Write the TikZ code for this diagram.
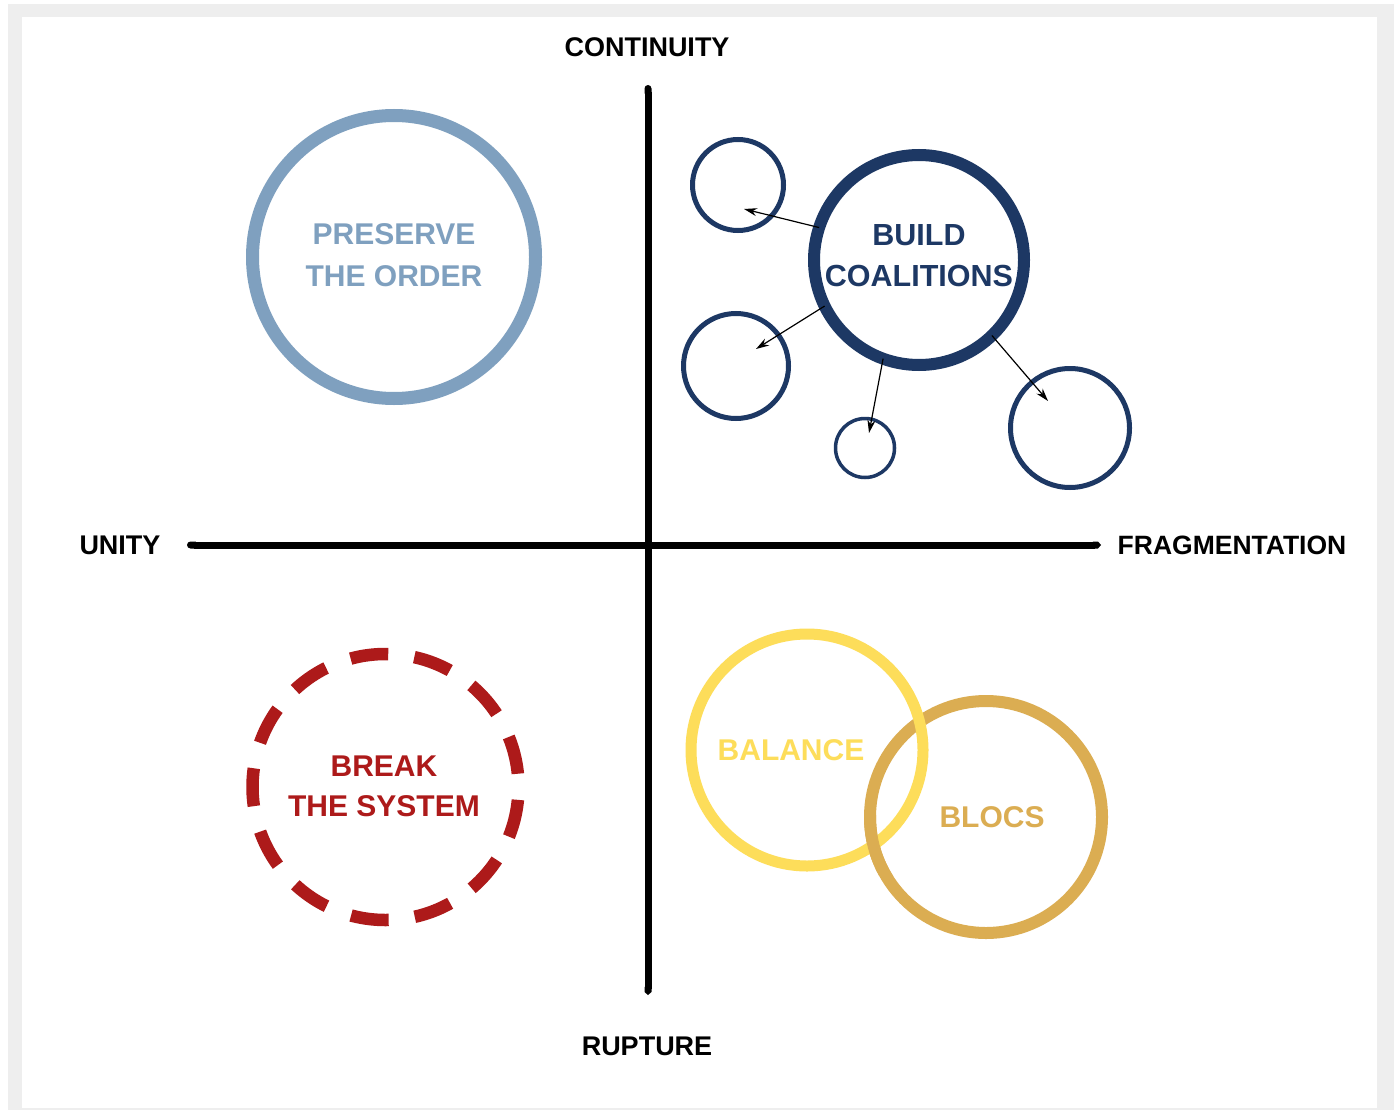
\documentclass[tikz,border=0pt]{standalone}
\usepackage{fontspec}
\setmainfont{Liberation Sans}
\usetikzlibrary{arrows.meta}
\definecolor{framegray}{HTML}{EEEEEE}
\definecolor{preserveblue}{HTML}{7FA0BF}
\definecolor{navy}{HTML}{1D3864}
\definecolor{breakred}{HTML}{AD1A1A}
\definecolor{balyellow}{HTML}{FDDD5A}
\definecolor{blocgold}{HTML}{DBAD52}
\tikzset{
  ring/.style={circle, draw, inner sep=0pt, outer sep=0pt},
  axislabel/.style={font=\fontsize{27}{30}\selectfont\bfseries, inner sep=0pt},
  bigtext/.style={font=\fontsize{30}{41}\selectfont\bfseries, align=center, inner sep=0pt},
  axisline/.style={line width=7pt, {Round Cap}-{Triangle Cap[length=3pt]}},
  spoke/.style={line width=1.2pt, -{Stealth[length=13pt,width=8pt]}}
}
\begin{document}
\begin{tikzpicture}[x=1pt,y=-1pt]
\useasboundingbox (0,0) rectangle (1394,1110);
\fill[framegray] (8,4) rectangle (1394,1110);
\fill[white] (22,17) rectangle (1377,1108);

% axes
\coordinate (vtop) at (648,85);
\coordinate (vbot) at (648,995);
\coordinate (hleft) at (187,545);
\coordinate (hright) at (1101,545);
\draw[axisline] (vtop) -- (vbot);
\draw[axisline] (hleft) -- (hright);

\node[axislabel] (cont) at (647,47) {CONTINUITY};
\node[axislabel] (rupt) at (647,1046) {RUPTURE};
\node[axislabel] (unity) at (120,545) {UNITY};
\node[axislabel, font=\fontsize{26.5}{30}\selectfont\bfseries] (frag) at (1232,545) {FRAGMENTATION};

% preserve the order
\node[ring, draw=preserveblue, line width=13pt, minimum size=283pt] (pres) at (394,257) {};
\node[bigtext, text=preserveblue, font=\fontsize{30}{42}\selectfont\bfseries] (prestext) at (394,255.5) {PRESERVE\\THE ORDER};

% build coalitions
\node[ring, draw=navy, line width=12pt, minimum size=210pt] (bc) at (919,260) {};
\node[bigtext, text=navy, font=\fontsize{30.5}{41}\selectfont\bfseries] (bctext) at (919,255.5) {BUILD\\COALITIONS};
\node[ring, draw=navy, line width=5pt, minimum size=91pt] (s1) at (738,185) {};
\node[ring, draw=navy, line width=5pt, minimum size=105pt] (s2) at (736,366) {};
\node[ring, draw=navy, line width=3.5pt, minimum size=59pt] (s3) at (865,448) {};
\node[ring, draw=navy, line width=5pt, minimum size=119pt] (s4) at (1070,428) {};
\coordinate (e1) at (744,209);
\coordinate (e2) at (756,349);
\coordinate (e3) at (869,433);
\coordinate (e4) at (1048,401);
\draw[spoke] (bc.162) -- (e1);
\draw[spoke] (bc.206) -- (e2);
\draw[spoke] (bc.250) -- (e3);
\draw[spoke] (bc.314) -- (e4);

% break the system
\node[ring, draw=breakred, line width=12.5pt, minimum size=266pt,
  dash pattern=on 38pt off 26.3pt, dash phase=51pt] (brk) at (385.5,787) {};
\node[bigtext, text=breakred, font=\fontsize{30}{40}\selectfont\bfseries] (brktext) at (384,786) {BREAK\\THE SYSTEM};

% balance and blocs
\node[ring, draw=blocgold, line width=12pt, minimum size=232pt] (blocs) at (986,817) {};
\node[ring, draw=balyellow, line width=11pt, minimum size=232pt] (bal) at (807,750) {};
\begin{scope}
  \clip (845,815) rectangle (900,875);
  \node[ring, draw=blocgold, line width=12pt, minimum size=232pt] (blocsover) at (986,817) {};
\end{scope}
\node[bigtext, text=balyellow] (baltext) at (791,750) {BALANCE};
\node[bigtext, text=blocgold] (blocstext) at (992,817) {BLOCS};
\end{tikzpicture}
\end{document}
